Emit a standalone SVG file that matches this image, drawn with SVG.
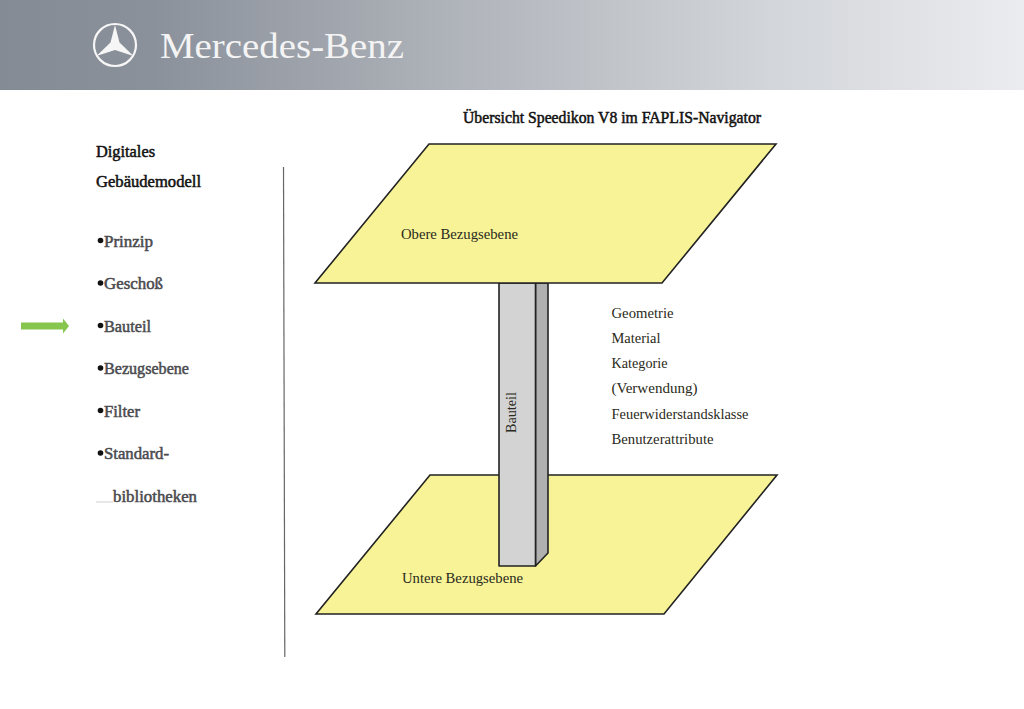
<svg xmlns="http://www.w3.org/2000/svg" width="1024" height="709" viewBox="0 0 1024 709">
<style>
text{font-family:"Liberation Serif","Times New Roman",serif}
.h{font-size:16px;fill:#111;stroke:#111;stroke-width:.5px}
.m{font-size:16px;fill:#4a4a4e;stroke:#4a4a4e;stroke-width:.5px}
.s{font-size:14px;fill:#2a2a20}
.pl{fill:#f7f396;stroke:#222;stroke-width:1.6}
.col{stroke:#222;stroke-width:1.6;stroke-linejoin:round}
.d{fill:#111}
</style>
<defs>
<linearGradient id="hd" x1="0" x2="1" y1="0" y2="0">
<stop offset="0" stop-color="#858b95"/>
<stop offset=".15" stop-color="#8b919b"/>
<stop offset=".5" stop-color="#b6bac0"/>
<stop offset=".75" stop-color="#d2d5d9"/>
<stop offset="1" stop-color="#ebecef"/>
</linearGradient>
</defs>
<rect width="1024" height="709" fill="#fff"/>
<g id="header">
<rect width="1024" height="90" fill="url(#hd)"/>
<g id="logo">
<circle cx="115" cy="45" r="21" fill="none" stroke="#f6f6f6" stroke-width="2.2"/>
<path d="M115 25L119.500 42.500L133.500 56L115 50L96.500 56L110.500 42.500Z" fill="#f6f6f6"/>
</g>
<text x="160" y="58" font-size="36" fill="#f4f4f4" textLength="244" lengthAdjust="spacingAndGlyphs">Mercedes-Benz</text>
</g>
<text id="title" class="h" x="463" y="123" textLength="298" lengthAdjust="spacingAndGlyphs">Übersicht Speedikon V8 im FAPLIS-Navigator</text>
<g id="menu">
<text class="h" x="96" y="157" textLength="59" lengthAdjust="spacingAndGlyphs">Digitales</text>
<text class="h" x="96" y="187" textLength="105" lengthAdjust="spacingAndGlyphs">Gebäudemodell</text>
<g><circle class="d" cx="100.500" cy="240.500" r="2.800"/><text class="m" x="104" y="247" textLength="49" lengthAdjust="spacingAndGlyphs">Prinzip</text></g>
<g><circle class="d" cx="100.500" cy="283" r="2.800"/><text class="m" x="104" y="289" textLength="59" lengthAdjust="spacingAndGlyphs">Geschoß</text></g>
<g><circle class="d" cx="100.500" cy="325.500" r="2.800"/><text class="m" x="104" y="332" textLength="47" lengthAdjust="spacingAndGlyphs">Bauteil</text></g>
<g><circle class="d" cx="100.500" cy="368" r="2.800"/><text class="m" x="104" y="374" textLength="85" lengthAdjust="spacingAndGlyphs">Bezugsebene</text></g>
<g><circle class="d" cx="100.500" cy="410.500" r="2.800"/><text class="m" x="104" y="417" textLength="36" lengthAdjust="spacingAndGlyphs">Filter</text></g>
<g><circle class="d" cx="100.500" cy="453" r="2.800"/><text class="m" x="104" y="459" textLength="65" lengthAdjust="spacingAndGlyphs">Standard-</text></g>
<text class="m" x="113" y="502" textLength="84" lengthAdjust="spacingAndGlyphs">bibliotheken</text>
<path d="M96 502H113" stroke="#cfcfcf" fill="none"/>
</g>
<g id="connectors">
<path id="divider" d="M283.500 167L284.800 657" stroke="#666" stroke-width="1.200" fill="none"/>
<path id="pointer" d="M21 322.500H63V318.500L69 326L63 333.500V329.500H21Z" fill="#86c64f"/>
</g>
<g id="lower-plane">
<path class="pl" d="M430 475H777L664 614H316Z"/>
<text class="s" x="402" y="583" textLength="121" lengthAdjust="spacingAndGlyphs">Untere Bezugsebene</text>
</g>
<g id="column">
<path class="col" d="M535.500 283H548V553L535.500 566Z" fill="#b0b0b0"/>
<rect class="col" x="499" y="283" width="36.500" height="283" fill="#d3d3d3"/>
<text class="s" transform="translate(516 433) rotate(-90)" textLength="41" lengthAdjust="spacingAndGlyphs">Bauteil</text>
</g>
<g id="upper-plane">
<path class="pl" d="M429 144H776L662 283H315Z"/>
<text class="s" x="401" y="239" textLength="117" lengthAdjust="spacingAndGlyphs">Obere Bezugsebene</text>
</g>
<g id="attributes">
<text class="s" x="611.500" y="318" textLength="62" lengthAdjust="spacingAndGlyphs">Geometrie</text>
<text class="s" x="611.500" y="343" textLength="49" lengthAdjust="spacingAndGlyphs">Material</text>
<text class="s" x="611.500" y="368" textLength="56" lengthAdjust="spacingAndGlyphs">Kategorie</text>
<text class="s" x="611.500" y="393" textLength="86" lengthAdjust="spacingAndGlyphs">(Verwendung)</text>
<text class="s" x="611.500" y="419" textLength="137" lengthAdjust="spacingAndGlyphs">Feuerwiderstandsklasse</text>
<text class="s" x="611.500" y="444" textLength="102" lengthAdjust="spacingAndGlyphs">Benutzerattribute</text>
</g>
</svg>
